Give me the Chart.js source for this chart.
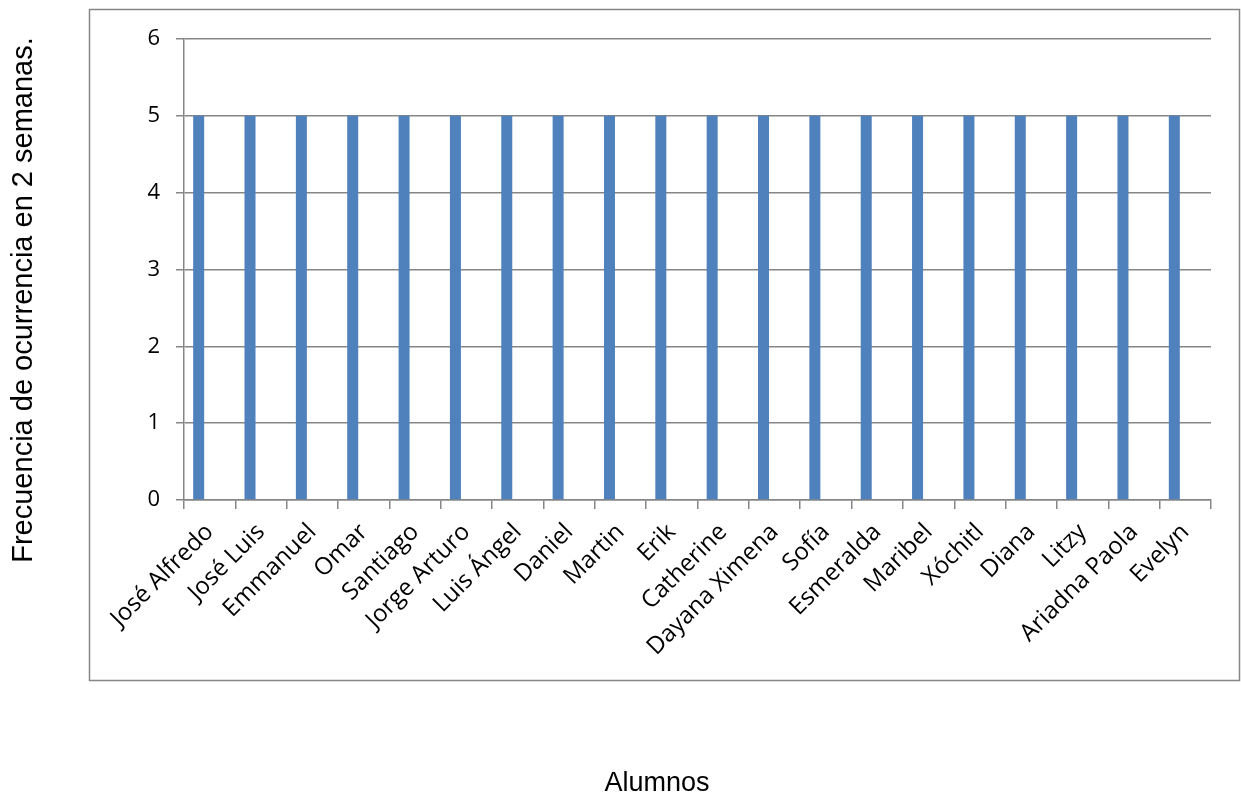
<!DOCTYPE html>
<html>
<head>
<meta charset="utf-8">
<script src="https://cdn.jsdelivr.net/npm/chart.js@4/dist/chart.umd.min.js"></script>
<style>
  html, body { margin: 0; padding: 0; background: #ffffff; }
  #wrap { width: 1241px; height: 799px; position: relative; }
</style>
</head>
<body>
<div id="wrap"><canvas id="chart" width="1241" height="799"></canvas></div>
<script>
// Students and how often each one was recorded over two weeks
const alumnos = [
  'José Alfredo', 'José Luis', 'Emmanuel', 'Omar', 'Santiago', 'Jorge Arturo',
  'Luis Ángel', 'Daniel', 'Martin', 'Erik', 'Catherine', 'Dayana Ximena',
  'Sofía', 'Esmeralda', 'Maribel', 'Xóchitl', 'Diana', 'Litzy',
  'Ariadna Paola', 'Evelyn'
];
const frecuencia = [5, 5, 5, 5, 5, 5, 5, 5, 5, 5, 5, 5, 5, 5, 5, 5, 5, 5, 5, 5];
// Two further series of the workbook that hold no values; they keep their slots in each group
const serie2 = [null, null, null, null, null, null, null, null, null, null, null, null, null, null, null, null, null, null, null, null];
const serie3 = [null, null, null, null, null, null, null, null, null, null, null, null, null, null, null, null, null, null, null, null];
const yTicks = [0, 1, 2, 3, 4, 5, 6];

const tituloY = 'Frecuencia de ocurrencia en 2 semanas.';
const tituloX = 'Alumnos';

const gris = '#868686';
const azul = '#4F81BD';
const fuenteEtiquetas = '"Open Sans", "Liberation Sans", sans-serif';
const fuenteTitulos = '"Liberation Sans", Arial, sans-serif';

// Outer frame and the two axis titles
const marco = {
  id: 'marco',
  beforeDraw(chart) {
    const ctx = chart.ctx;
    ctx.save();
    ctx.fillStyle = '#ffffff';
    ctx.fillRect(0, 0, chart.width, chart.height);
    ctx.strokeStyle = gris;
    ctx.lineWidth = 1.5;
    ctx.strokeRect(89.5, 9.5, 1150, 671);
    ctx.restore();
  },
  afterDraw(chart) {
    const ctx = chart.ctx;
    ctx.save();
    ctx.fillStyle = '#000000';
    ctx.font = '29px ' + fuenteTitulos;
    ctx.textAlign = 'center';
    ctx.textBaseline = 'middle';
    ctx.translate(24, 300);
    ctx.rotate(-Math.PI / 2);
    ctx.fillText(tituloY, 0, 0);
    ctx.restore();

    ctx.save();
    ctx.fillStyle = '#000000';
    ctx.font = '27px ' + fuenteTitulos;
    ctx.textAlign = 'center';
    ctx.textBaseline = 'middle';
    ctx.fillText(tituloX, 657, 784);
    ctx.restore();
  }
};

new Chart(document.getElementById('chart'), {
  type: 'bar',
  data: {
    labels: alumnos,
    datasets: [
      { data: frecuencia, backgroundColor: azul, borderWidth: 0 },
      { data: serie2, backgroundColor: '#C0504D', borderWidth: 0 },
      { data: serie3, backgroundColor: '#9BBB59', borderWidth: 0 }
    ]
  },
  options: {
    responsive: false,
    animation: false,
    devicePixelRatio: 1,
    categoryPercentage: 0.643,
    barPercentage: 1,
    layout: { padding: { left: 124, top: 39, right: 30, bottom: 119 } },
    plugins: {
      legend: { display: false },
      tooltip: { enabled: false }
    },
    scales: {
      x: {
        grid: {
          offset: true,
          drawOnChartArea: false,
          drawTicks: true,
          tickLength: 9,
          color: gris,
          lineWidth: 1.5
        },
        border: { display: true, color: gris, width: 1.5 },
        ticks: {
          color: '#000000',
          font: { family: fuenteEtiquetas, size: 24 },
          minRotation: 45,
          maxRotation: 45,
          autoSkip: false,
          padding: 9
        },
        afterFit(scale) { scale.height = 180; }
      },
      y: {
        min: 0,
        max: 6,
        afterBuildTicks(scale) { scale.ticks = yTicks.map(v => ({ value: v })); },
        grid: {
          color: gris,
          lineWidth: 1.5,
          tickLength: 8
        },
        border: { display: true, color: gris, width: 1.5 },
        ticks: {
          color: '#000000',
          font: { family: fuenteEtiquetas, size: 22 },
          padding: 16
        },
        afterFit(scale) { scale.width = 60; }
      }
    }
  },
  plugins: [marco]
});
</script>
</body>
</html>
